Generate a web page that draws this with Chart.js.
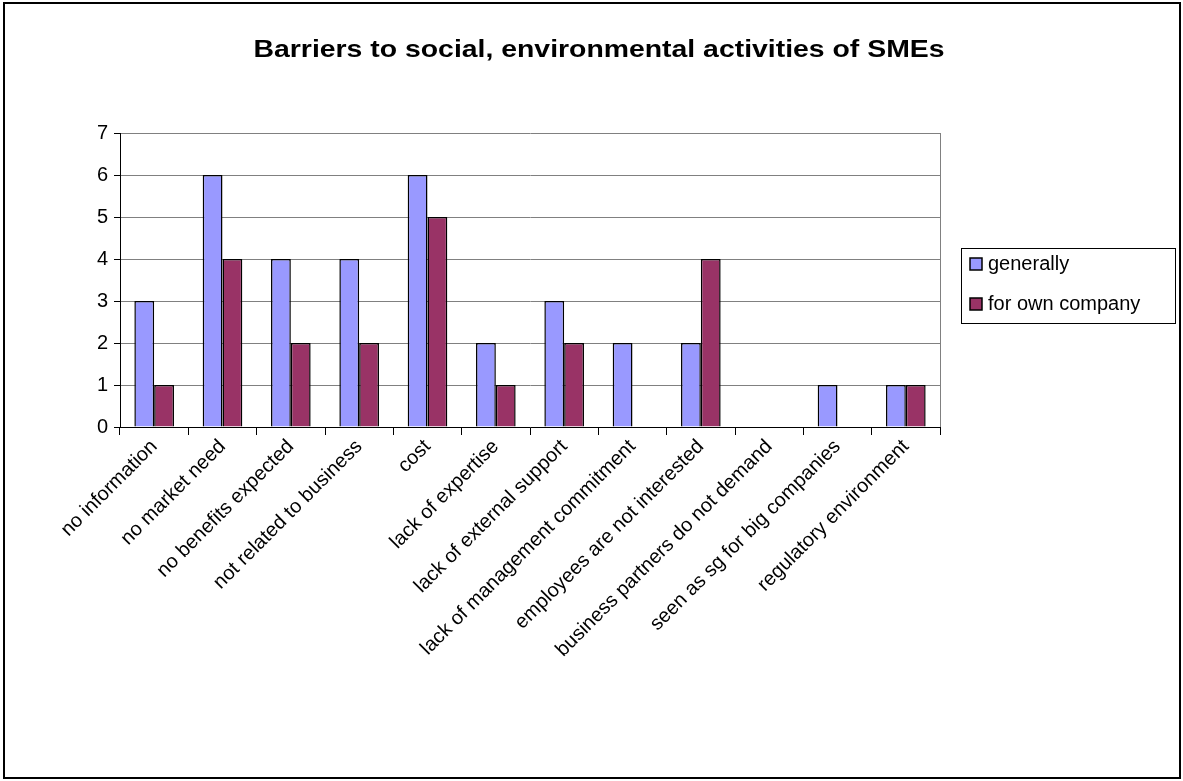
<!DOCTYPE html>
<html>
<head>
<meta charset="utf-8">
<script src="https://cdn.jsdelivr.net/npm/chart.js@4"></script>
<style>
    html, body { margin: 0; padding: 0; background: #fff; }
    #wrap { position: absolute; left: 0; top: 0; width: 1183px; height: 781px; }
    #frame { position: absolute; left: 3px; top: 2px; width: 1174px; height: 773px; border: 2px solid #000; box-sizing: content-box; pointer-events: none; }
</style>
</head>
<body>
<div id="wrap">
    <canvas id="chart" width="1183" height="781"></canvas>
    <div id="frame"></div>
</div>
<script>
// chart data
const categories = [
    "no information", "no market need", "no benefits expected", "not related to business",
    "cost", "lack of expertise", "lack of external support", "lack of management commitment",
    "employees are not interested", "business partners do not demand",
    "seen as sg for big companies", "regulatory environment"
];
const seriesNames = ["generally", "for own company"];
const generally = [3, 6, 4, 4, 6, 2, 3, 2, 2, 0, 1, 1];
const ownCompany = [1, 4, 2, 2, 5, 1, 2, 0, 4, 0, 0, 1];
const yTicks = [0, 1, 2, 3, 4, 5, 6, 7];
const chartTitle = "Barriers to social, environmental activities of SMEs";

const colorArray = ["#9999FF", "#993366"];
const FONT = "Arial, 'Liberation Sans', sans-serif";

// title, plot border + legend drawn by hand, like the old excel chart
const excelBits = {
    id: "excelBits",
    afterDraw(chart) {
        let ctx = chart.ctx;
        let a = chart.chartArea;
        ctx.save();

        // title, stretched to the width of the original
        ctx.font = "bold 24px " + FONT;
        ctx.textBaseline = "middle";
        ctx.textAlign = "center";
        ctx.fillStyle = "#000";
        let tw = ctx.measureText(chartTitle).width;
        ctx.save();
        ctx.translate(599, 50);
        ctx.scale(691 / tw, 1);
        ctx.fillText(chartTitle, 0, 0);
        ctx.restore();
        ctx.textAlign = "left";

        ctx.strokeStyle = "#808080";
        ctx.lineWidth = 1;
        ctx.beginPath();
        ctx.moveTo(Math.round(a.right) + 0.5, a.top);
        ctx.lineTo(Math.round(a.right) + 0.5, a.bottom);
        ctx.stroke();

        // legend
        let lx = 961, ly = 248, lw = 214, lh = 75;
        ctx.strokeStyle = "#000";
        ctx.strokeRect(lx + 0.5, ly + 0.5, lw, lh);
        ctx.font = "20px " + FONT;
        chart.data.datasets.forEach(function (ds, i) {
            let cy = ly + 16 + i * 40;
            ctx.fillStyle = ds.backgroundColor;
            ctx.fillRect(lx + 9, cy - 6, 12, 12);
            ctx.strokeStyle = "#000";
            ctx.lineWidth = 1.5;
            ctx.strokeRect(lx + 9, cy - 6, 12, 12);
            ctx.fillStyle = "#000";
            ctx.fillText(ds.label, lx + 27, cy);
        });
        ctx.restore();
    }
};

let ctx = document.getElementById("chart").getContext("2d");
new Chart(ctx, {
    type: "bar",
    data: {
        labels: categories,
        datasets: [
            { label: seriesNames[0], data: generally, backgroundColor: colorArray[0], borderColor: "#000", borderWidth: 1.5 },
            { label: seriesNames[1], data: ownCompany, backgroundColor: colorArray[1], borderColor: "#000", borderWidth: 1.5 }
        ]
    },
    options: {
        responsive: false,
        animation: false,
        maintainAspectRatio: false,
        layout: { padding: { left: 0, right: 243, top: 133, bottom: 0 } },
        datasets: { bar: { categoryPercentage: 0.58, barPercentage: 1, borderSkipped: "start" } },
        plugins: {
            legend: { display: false },
            tooltip: { enabled: false },
            title: { display: false }
        },
        scales: {
            x: {
                offset: true,
                afterFit: function (s) { s.height = 354; },
                grid: { offset: true, drawOnChartArea: false, drawTicks: true, tickLength: 8, color: "#000" },
                border: { color: "#000", width: 1 },
                ticks: {
                    color: "#000",
                    font: { family: FONT, size: 20 },
                    minRotation: 45,
                    maxRotation: 45,
                    autoSkip: false,
                    padding: 0
                }
            },
            y: {
                min: 0,
                max: 7,
                afterFit: function (s) { s.width = 120; },
                afterBuildTicks: function (s) { s.ticks = yTicks.map(v => ({ value: v })); },
                grid: { color: "#808080", tickLength: 6, tickColor: "#000" },
                border: { color: "#000", width: 1 },
                ticks: { color: "#000", font: { family: FONT, size: 20 }, padding: 6 }
            }
        }
    },
    plugins: [excelBits]
});
</script>
</body>
</html>
